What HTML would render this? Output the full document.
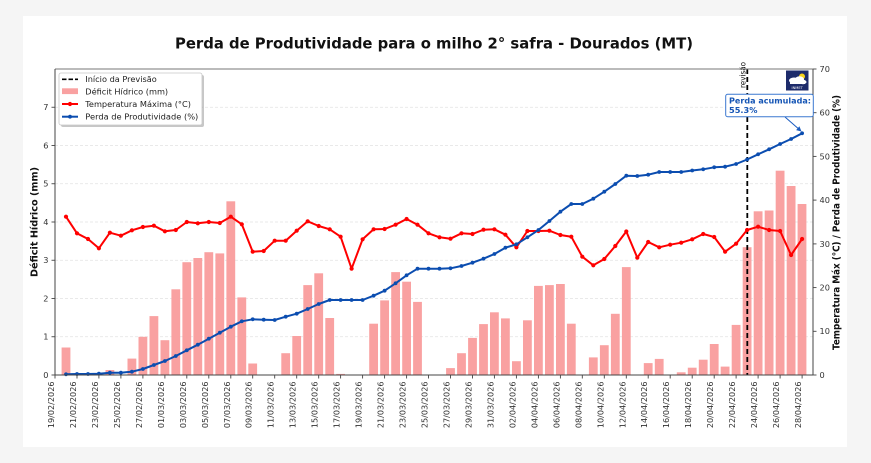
<!DOCTYPE html>
<html><head><meta charset="utf-8"><style>
html,body{margin:0;padding:0;background:#f5f5f5;}
svg{display:block;font-family:"DejaVu Sans","Liberation Sans",sans-serif;}
.tk{font-size:8.2px;fill:#333;}
.dl{font-size:8.1px;fill:#333;text-anchor:end;}
.lg{font-size:8.2px;fill:#222;}
</style></head><body>
<svg width="871" height="463" viewBox="0 0 871 463" xmlns="http://www.w3.org/2000/svg">
<defs>
<marker id="mr" viewBox="-3 -3 6 6" refX="0" refY="0" markerUnits="userSpaceOnUse" markerWidth="6" markerHeight="6"><circle r="2.1" fill="#ff0000"/></marker>
<marker id="mb" viewBox="-3 -3 6 6" refX="0" refY="0" markerUnits="userSpaceOnUse" markerWidth="6" markerHeight="6"><circle r="1.9" fill="#0b4db0"/></marker>
</defs>
<rect width="871" height="463" fill="#f5f5f5"/>
<rect x="23" y="16" width="824" height="431" fill="#ffffff"/>

<!-- title -->
<text x="434" y="48.3" text-anchor="middle" font-weight="bold" font-size="14.8" fill="#111" textLength="518" lengthAdjust="spacingAndGlyphs">Perda de Produtividade para o milho 2° safra - Dourados (MT)</text>

<!-- grid -->
<g stroke="#e2e2e2" stroke-width="0.8" stroke-dasharray="3,2">
<line x1="55" y1="336.75" x2="813" y2="336.75"/>
<line x1="55" y1="298.5" x2="813" y2="298.5"/>
<line x1="55" y1="260.25" x2="813" y2="260.25"/>
<line x1="55" y1="222" x2="813" y2="222"/>
<line x1="55" y1="183.75" x2="813" y2="183.75"/>
<line x1="55" y1="145.5" x2="813" y2="145.5"/>
<line x1="55" y1="107.25" x2="813" y2="107.25"/>
</g>

<!-- bars -->
<g fill="#f9a1a1">
<rect x="61.6" y="347.5" width="8.8" height="27.5"/>
<rect x="105.5" y="370.0" width="8.8" height="5.0"/>
<rect x="127.5" y="358.6" width="8.8" height="16.4"/>
<rect x="138.5" y="336.8" width="8.8" height="38.2"/>
<rect x="149.5" y="316.1" width="8.8" height="58.9"/>
<rect x="160.5" y="340.2" width="8.8" height="34.8"/>
<rect x="171.4" y="289.3" width="8.8" height="85.7"/>
<rect x="182.4" y="262.2" width="8.8" height="112.8"/>
<rect x="193.4" y="258.0" width="8.8" height="117.0"/>
<rect x="204.4" y="252.2" width="8.8" height="122.8"/>
<rect x="215.4" y="253.4" width="8.8" height="121.6"/>
<rect x="226.4" y="201.3" width="8.8" height="173.7"/>
<rect x="237.4" y="297.4" width="8.8" height="77.6"/>
<rect x="248.3" y="363.5" width="8.8" height="11.5"/>
<rect x="281.3" y="353.2" width="8.8" height="21.8"/>
<rect x="292.3" y="336.0" width="8.8" height="39.0"/>
<rect x="303.3" y="285.1" width="8.8" height="89.9"/>
<rect x="314.3" y="273.3" width="8.8" height="101.7"/>
<rect x="325.3" y="318.0" width="8.8" height="57.0"/>
<rect x="336.2" y="373.9" width="8.8" height="1.1"/>
<rect x="369.2" y="323.7" width="8.8" height="51.3"/>
<rect x="380.2" y="300.4" width="8.8" height="74.6"/>
<rect x="391.2" y="272.1" width="8.8" height="102.9"/>
<rect x="402.2" y="281.7" width="8.8" height="93.3"/>
<rect x="413.1" y="301.9" width="8.8" height="73.1"/>
<rect x="446.1" y="368.1" width="8.8" height="6.9"/>
<rect x="457.1" y="353.2" width="8.8" height="21.8"/>
<rect x="468.1" y="337.9" width="8.8" height="37.1"/>
<rect x="479.1" y="324.1" width="8.8" height="50.9"/>
<rect x="490.0" y="312.3" width="8.8" height="62.7"/>
<rect x="501.0" y="318.4" width="8.8" height="56.6"/>
<rect x="512.0" y="361.2" width="8.8" height="13.8"/>
<rect x="523.0" y="320.3" width="8.8" height="54.7"/>
<rect x="534.0" y="285.9" width="8.8" height="89.1"/>
<rect x="545.0" y="285.1" width="8.8" height="89.9"/>
<rect x="556.0" y="284.0" width="8.8" height="91.0"/>
<rect x="566.9" y="323.7" width="8.8" height="51.3"/>
<rect x="588.9" y="357.4" width="8.8" height="17.6"/>
<rect x="599.9" y="345.2" width="8.8" height="29.8"/>
<rect x="610.9" y="313.8" width="8.8" height="61.2"/>
<rect x="621.9" y="267.1" width="8.8" height="107.9"/>
<rect x="643.8" y="363.1" width="8.8" height="11.9"/>
<rect x="654.8" y="358.9" width="8.8" height="16.1"/>
<rect x="676.8" y="372.3" width="8.8" height="2.7"/>
<rect x="687.8" y="367.7" width="8.8" height="7.3"/>
<rect x="698.8" y="359.7" width="8.8" height="15.3"/>
<rect x="709.8" y="344.0" width="8.8" height="31.0"/>
<rect x="720.7" y="366.6" width="8.8" height="8.4"/>
<rect x="731.7" y="324.9" width="8.8" height="50.1"/>
<rect x="742.7" y="247.2" width="8.8" height="127.8"/>
<rect x="753.7" y="211.3" width="8.8" height="163.7"/>
<rect x="764.7" y="210.5" width="8.8" height="164.5"/>
<rect x="775.7" y="170.7" width="8.8" height="204.3"/>
<rect x="786.7" y="186.0" width="8.8" height="189.0"/>
<rect x="797.6" y="204.0" width="8.8" height="171.0"/>
</g>

<!-- forecast start line -->
<line x1="747.3" y1="69" x2="747.3" y2="375" stroke="#000" stroke-width="1.8" stroke-dasharray="5,3"/>
<text transform="translate(745.6,62) rotate(-90)" text-anchor="end" font-size="8" fill="#111" textLength="26" lengthAdjust="spacingAndGlyphs">revisão</text>

<!-- temperature line -->
<polyline fill="none" stroke="#ff0000" stroke-width="2" stroke-linejoin="round" marker-start="url(#mr)" marker-mid="url(#mr)" marker-end="url(#mr)" points="66,216.7 77,233.3 88,239 98.9,248.3 109.9,232.7 120.9,235.7 131.9,230.3 142.9,227 153.9,225.7 164.9,231.3 175.8,230 186.8,222 197.8,223.3 208.8,222 219.8,223 230.8,216.7 241.8,224.3 252.7,251.7 263.7,251 274.7,240.7 285.7,240.7 296.7,230.7 307.7,221.3 318.7,226 329.7,229.3 340.6,236.7 351.6,268.7 362.6,239.3 373.6,229.3 384.6,229 395.6,224.7 406.6,219 417.5,224.7 428.5,233.3 439.5,237.3 450.5,238.7 461.5,233.3 472.5,234 483.5,229.7 494.4,229.3 505.4,234.7 516.4,247.3 527.4,231 538.4,231 549.4,230.7 560.4,235 571.3,236.7 582.3,256.7 593.3,265.3 604.3,259 615.3,246 626.3,231.5 637.3,257.7 648.2,242 659.2,247.3 670.2,244.7 681.2,242.7 692.2,239.3 703.2,234 714.2,237 725.1,251.7 736.1,243.7 747.1,230 758.1,226.7 769.1,230 780.1,231 791.1,255 802.1,239"/>

<!-- productivity loss line -->
<polyline fill="none" stroke="#0b4db0" stroke-width="2" stroke-linejoin="round" marker-start="url(#mb)" marker-mid="url(#mb)" marker-end="url(#mb)" points="66,374.3 77,374 88,374 98.9,373.7 109.9,372.7 120.9,372.7 131.9,371.7 142.9,369 153.9,365 164.9,361 175.8,356 186.8,350.3 197.8,344.7 208.8,338.7 219.8,332.7 230.8,326.7 241.8,321.3 252.7,319.3 263.7,319.7 274.7,320 285.7,316.7 296.7,313.7 307.7,309 318.7,304 329.7,300 340.6,300 351.6,300 362.6,300 373.6,295.7 384.6,290.7 395.6,283.3 406.6,275.3 417.5,268.7 428.5,268.7 439.5,268.7 450.5,268.3 461.5,266 472.5,262.7 483.5,258.7 494.4,254 505.4,247.7 516.4,244.3 527.4,237.3 538.4,230 549.4,221 560.4,211.7 571.3,204 582.3,204 593.3,198.7 604.3,191.7 615.3,184 626.3,175.7 637.3,176 648.2,174.7 659.2,172 670.2,172 681.2,172 692.2,170.5 703.2,169.3 714.2,167.3 725.1,166.7 736.1,164 747.1,159.5 758.1,154.3 769.1,149.3 780.1,144 791.1,139 802.1,133.3"/>

<!-- spines -->
<g stroke-width="1" fill="none">
<line x1="55" y1="69" x2="813" y2="69" stroke="#777"/>
<line x1="55" y1="69" x2="55" y2="375" stroke="#444"/>
<line x1="813" y1="69" x2="813" y2="375" stroke="#444"/>
<line x1="55" y1="375" x2="813" y2="375" stroke="#444"/>
</g>

<!-- left ticks -->
<g stroke="#444" stroke-width="0.9">
<line x1="51.5" y1="375" x2="55" y2="375"/><line x1="51.5" y1="336.75" x2="55" y2="336.75"/><line x1="51.5" y1="298.5" x2="55" y2="298.5"/><line x1="51.5" y1="260.25" x2="55" y2="260.25"/><line x1="51.5" y1="222" x2="55" y2="222"/><line x1="51.5" y1="183.75" x2="55" y2="183.75"/><line x1="51.5" y1="145.5" x2="55" y2="145.5"/><line x1="51.5" y1="107.25" x2="55" y2="107.25"/>
<line x1="813" y1="375" x2="816.5" y2="375"/><line x1="813" y1="331.3" x2="816.5" y2="331.3"/><line x1="813" y1="287.6" x2="816.5" y2="287.6"/><line x1="813" y1="243.9" x2="816.5" y2="243.9"/><line x1="813" y1="200.1" x2="816.5" y2="200.1"/><line x1="813" y1="156.4" x2="816.5" y2="156.4"/><line x1="813" y1="112.7" x2="816.5" y2="112.7"/><line x1="813" y1="69" x2="816.5" y2="69"/>
</g>
<g class="tk" text-anchor="end">
<text x="48.5" y="377.9">0</text><text x="48.5" y="339.7">1</text><text x="48.5" y="301.4">2</text><text x="48.5" y="263.2">3</text><text x="48.5" y="224.9">4</text><text x="48.5" y="186.7">5</text><text x="48.5" y="148.4">6</text><text x="48.5" y="110.2">7</text>
</g>
<g class="tk">
<text x="819.5" y="377.9">0</text><text x="819.5" y="334.2">10</text><text x="819.5" y="290.5">20</text><text x="819.5" y="246.8">30</text><text x="819.5" y="203">40</text><text x="819.5" y="159.3">50</text><text x="819.5" y="115.6">60</text><text x="819.5" y="71.9">70</text>
</g>

<!-- axis labels -->
<text transform="translate(37.5,222) rotate(-90)" text-anchor="middle" font-weight="bold" font-size="9.6" fill="#111" textLength="110" lengthAdjust="spacingAndGlyphs">Déficit Hídrico (mm)</text>
<text transform="translate(839.5,222.5) rotate(-90)" text-anchor="middle" font-weight="bold" font-size="9.6" fill="#111" textLength="255" lengthAdjust="spacingAndGlyphs">Temperatura Máx (°C) / Perda de Produtividade (%)</text>

<!-- bottom ticks -->
<g stroke="#444" stroke-width="0.9">
<line x1="55" y1="375" x2="55" y2="378.5"/><line x1="77" y1="375" x2="77" y2="378.5"/><line x1="98.9" y1="375" x2="98.9" y2="378.5"/><line x1="120.9" y1="375" x2="120.9" y2="378.5"/><line x1="142.9" y1="375" x2="142.9" y2="378.5"/><line x1="164.9" y1="375" x2="164.9" y2="378.5"/><line x1="186.8" y1="375" x2="186.8" y2="378.5"/><line x1="208.8" y1="375" x2="208.8" y2="378.5"/><line x1="230.8" y1="375" x2="230.8" y2="378.5"/><line x1="252.7" y1="375" x2="252.7" y2="378.5"/><line x1="274.7" y1="375" x2="274.7" y2="378.5"/><line x1="296.7" y1="375" x2="296.7" y2="378.5"/><line x1="318.7" y1="375" x2="318.7" y2="378.5"/><line x1="340.6" y1="375" x2="340.6" y2="378.5"/><line x1="362.6" y1="375" x2="362.6" y2="378.5"/><line x1="384.6" y1="375" x2="384.6" y2="378.5"/><line x1="406.6" y1="375" x2="406.6" y2="378.5"/><line x1="428.5" y1="375" x2="428.5" y2="378.5"/><line x1="450.5" y1="375" x2="450.5" y2="378.5"/><line x1="472.5" y1="375" x2="472.5" y2="378.5"/><line x1="494.4" y1="375" x2="494.4" y2="378.5"/><line x1="516.4" y1="375" x2="516.4" y2="378.5"/><line x1="538.4" y1="375" x2="538.4" y2="378.5"/><line x1="560.4" y1="375" x2="560.4" y2="378.5"/><line x1="582.3" y1="375" x2="582.3" y2="378.5"/><line x1="604.3" y1="375" x2="604.3" y2="378.5"/><line x1="626.3" y1="375" x2="626.3" y2="378.5"/><line x1="648.2" y1="375" x2="648.2" y2="378.5"/><line x1="670.2" y1="375" x2="670.2" y2="378.5"/><line x1="692.2" y1="375" x2="692.2" y2="378.5"/><line x1="714.2" y1="375" x2="714.2" y2="378.5"/><line x1="736.1" y1="375" x2="736.1" y2="378.5"/><line x1="758.1" y1="375" x2="758.1" y2="378.5"/><line x1="780.1" y1="375" x2="780.1" y2="378.5"/><line x1="802.1" y1="375" x2="802.1" y2="378.5"/>
</g>
<g class="dl">
<text transform="translate(54,381.5) rotate(-90)">19/02/2026</text>
<text transform="translate(76,381.5) rotate(-90)">21/02/2026</text>
<text transform="translate(97.9,381.5) rotate(-90)">23/02/2026</text>
<text transform="translate(119.9,381.5) rotate(-90)">25/02/2026</text>
<text transform="translate(141.9,381.5) rotate(-90)">27/02/2026</text>
<text transform="translate(163.9,381.5) rotate(-90)">01/03/2026</text>
<text transform="translate(185.8,381.5) rotate(-90)">03/03/2026</text>
<text transform="translate(207.8,381.5) rotate(-90)">05/03/2026</text>
<text transform="translate(229.8,381.5) rotate(-90)">07/03/2026</text>
<text transform="translate(251.7,381.5) rotate(-90)">09/03/2026</text>
<text transform="translate(273.7,381.5) rotate(-90)">11/03/2026</text>
<text transform="translate(295.7,381.5) rotate(-90)">13/03/2026</text>
<text transform="translate(317.7,381.5) rotate(-90)">15/03/2026</text>
<text transform="translate(339.6,381.5) rotate(-90)">17/03/2026</text>
<text transform="translate(361.6,381.5) rotate(-90)">19/03/2026</text>
<text transform="translate(383.6,381.5) rotate(-90)">21/03/2026</text>
<text transform="translate(405.6,381.5) rotate(-90)">23/03/2026</text>
<text transform="translate(427.5,381.5) rotate(-90)">25/03/2026</text>
<text transform="translate(449.5,381.5) rotate(-90)">27/03/2026</text>
<text transform="translate(471.5,381.5) rotate(-90)">29/03/2026</text>
<text transform="translate(493.4,381.5) rotate(-90)">31/03/2026</text>
<text transform="translate(515.4,381.5) rotate(-90)">02/04/2026</text>
<text transform="translate(537.4,381.5) rotate(-90)">04/04/2026</text>
<text transform="translate(559.4,381.5) rotate(-90)">06/04/2026</text>
<text transform="translate(581.3,381.5) rotate(-90)">08/04/2026</text>
<text transform="translate(603.3,381.5) rotate(-90)">10/04/2026</text>
<text transform="translate(625.3,381.5) rotate(-90)">12/04/2026</text>
<text transform="translate(647.2,381.5) rotate(-90)">14/04/2026</text>
<text transform="translate(669.2,381.5) rotate(-90)">16/04/2026</text>
<text transform="translate(691.2,381.5) rotate(-90)">18/04/2026</text>
<text transform="translate(713.2,381.5) rotate(-90)">20/04/2026</text>
<text transform="translate(735.1,381.5) rotate(-90)">22/04/2026</text>
<text transform="translate(757.1,381.5) rotate(-90)">24/04/2026</text>
<text transform="translate(779.1,381.5) rotate(-90)">26/04/2026</text>
<text transform="translate(801.1,381.5) rotate(-90)">28/04/2026</text>
</g>

<!-- legend -->
<rect x="61" y="75" width="143" height="52" rx="2" fill="#000" opacity="0.22"/>
<rect x="59" y="73" width="143" height="52" rx="2" fill="#fff" stroke="#c8c8c8" stroke-width="0.8"/>
<line x1="62" y1="79.3" x2="78" y2="79.3" stroke="#000" stroke-width="1.6" stroke-dasharray="4.5,2"/>
<rect x="62" y="88.3" width="16" height="5.8" fill="#f9a1a1"/>
<line x1="62" y1="104" x2="78" y2="104" stroke="#ff0000" stroke-width="2"/><circle cx="70" cy="104" r="2.1" fill="#ff0000"/>
<line x1="62" y1="116.7" x2="78" y2="116.7" stroke="#0b4db0" stroke-width="2"/><circle cx="70" cy="116.7" r="1.9" fill="#0b4db0"/>
<text class="lg" x="85.3" y="82.2">Início da Previsão</text>
<text class="lg" x="85.3" y="94.5">Déficit Hídrico (mm)</text>
<text class="lg" x="85.3" y="107.2">Temperatura Máxima (°C)</text>
<text class="lg" x="85.3" y="119.7" textLength="113" lengthAdjust="spacingAndGlyphs">Perda de Produtividade (%)</text>

<!-- annotation -->
<line x1="785" y1="117" x2="798.5" y2="128.8" stroke="#1a5cc0" stroke-width="1"/>
<polygon points="801.5,131.5 796.1,130.1 799.4,126.3" fill="#1a5cc0"/>
<rect x="725.7" y="94.3" width="87.6" height="22.4" rx="2" fill="#fff" stroke="#3b78d0" stroke-width="1"/>
<text x="729" y="103.6" font-weight="bold" font-size="8.2" fill="#1555b5" textLength="82" lengthAdjust="spacingAndGlyphs">Perda acumulada:</text>
<text x="729" y="113.2" font-weight="bold" font-size="8.2" fill="#1555b5">55.3%</text>

<!-- logo -->
<rect x="786" y="70.5" width="22.5" height="20" fill="#1d2b6b"/>
<circle cx="802" cy="76.5" r="3" fill="#f6d21c"/>
<ellipse cx="794" cy="80.5" rx="5" ry="3" fill="#fff"/>
<ellipse cx="799.5" cy="79.5" rx="4.5" ry="3.2" fill="#fff"/>
<ellipse cx="803" cy="82" rx="3.5" ry="2.2" fill="#fff"/>
<rect x="790" y="81" width="15" height="3" fill="#fff"/>
<text x="797.2" y="89" text-anchor="middle" font-size="3.6" fill="#fff">INMET</text>
</svg>
</body></html>
